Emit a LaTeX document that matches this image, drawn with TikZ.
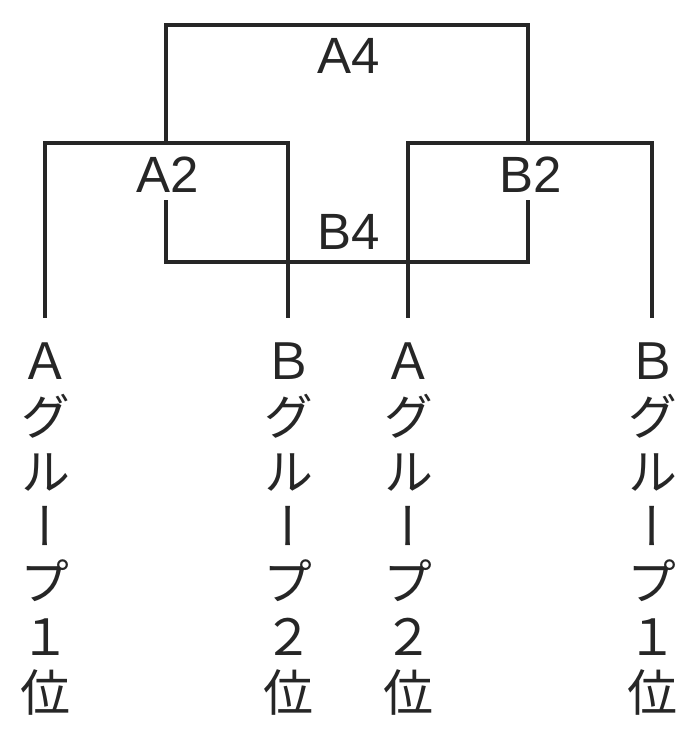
\documentclass[tikz,border=0pt]{standalone}
\usepackage{fontspec}
\setmainfont{Liberation Sans}
\newfontfamily\cjkv[RawFeature=+vert]{Noto Sans CJK JP}
\begin{document}
\begin{tikzpicture}[x=1pt,y=-1pt,
  wire/.style={line width=3.4pt, color=black!85, line cap=rect},
  lab/.style={inner sep=0pt, inner ysep=9pt, font=\fontsize{51}{56}\selectfont, text=black!85},
  vcol/.style={inner sep=0pt, inner ysep=27pt, anchor=north, align=center,
    font=\cjkv\fontsize{50}{55.2}\selectfont, text=black!85}]
\useasboundingbox (0,0) rectangle (678,732);
% labels
\node[lab] (A4) at (349,56) {A4};
\node[lab] (A2) at (168,175) {A2};
\node[lab] (B2) at (531,175) {B2};
\node[lab] (B4) at (349,232) {B4};
% columns
\node[vcol] (c1) at (45,316) {Ａ\\グ\\ル\\ー\\プ\\１\\位};
\node[vcol] (c2) at (288,316) {Ｂ\\グ\\ル\\ー\\プ\\２\\位};
\node[vcol] (c3) at (408,316) {Ａ\\グ\\ル\\ー\\プ\\２\\位};
\node[vcol] (c4) at (652,316) {Ｂ\\グ\\ル\\ー\\プ\\１\\位};
% junction coordinates
\coordinate (jL) at (166,143);
\coordinate (jR) at (528,143);
\coordinate (top) at (347,25);
\coordinate (bot) at (347,262);
% brackets
\draw[wire] (c1.north) |- (jL) -| (c2.north);
\draw[wire] (c3.north) |- (jR) -| (c4.north);
\draw[wire] (jL) |- (top) -| (jR);
\draw[wire] (A2.south -| jL) |- (bot) -| (B2.south -| jR);
\end{tikzpicture}
\end{document}
